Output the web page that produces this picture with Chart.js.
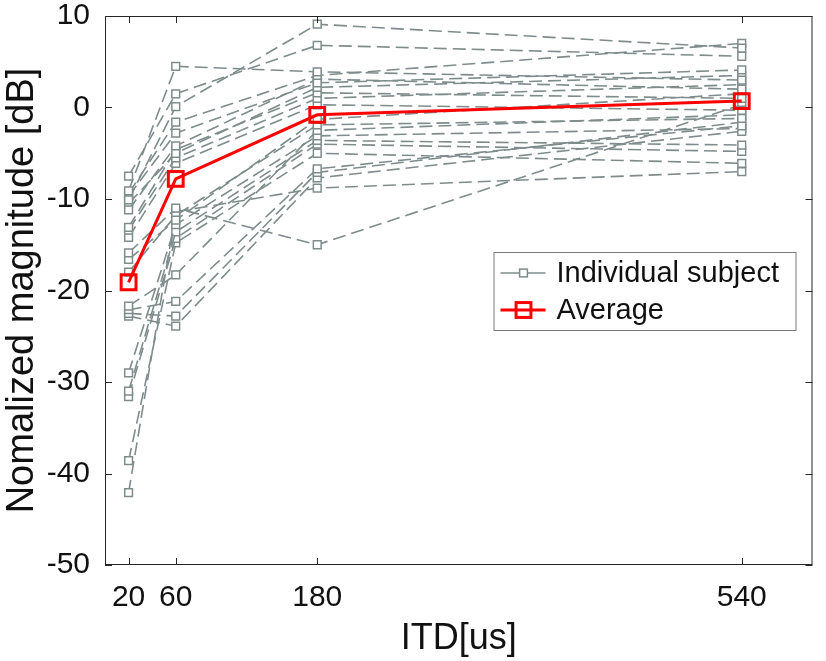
<!DOCTYPE html>
<html>
<head>
<meta charset="utf-8">
<title>ITD normalized magnitude</title>
<script src="https://cdn.jsdelivr.net/npm/chart.js@4.4.0/dist/chart.umd.min.js"></script>
<style>
    html, body { margin: 0; padding: 0; background: #fff; }
    #wrap { width: 826px; height: 661px; }
</style>
</head>
<body>
<div id="wrap"><canvas id="itdChart" width="826" height="661"></canvas></div>
<script>
// ITD conditions (us), also the x tick labels
const itdTicks = [20, 60, 180, 540];
const yTicks = [-50, -40, -30, -20, -10, 0, 10];

// Normalized magnitude (dB) per subject, one array per ITD, same subject order
const at20  = [-9.1, -10.1, -7.5, -9.4, -9.7, -11.2, -10.5, -13.1, -13.4, -14.2, -15.9,
               -16.6, -18.0, -21.7, -22.1, -22.5, -22.8, -29.0, -31.0, -31.6, -38.6, -42.1];
const at60  = [4.5, 0.1, 1.5, -1.6, -2.8, -4.2, -5.0, -4.6, -5.5, -6.1, -11.0,
               -12.3, -11.8, -18.3, -21.2, -22.8, -23.9, -12.8, -13.6, -14.3, -14.8, -11.4];
const at180 = [3.9, 9.1, 6.8, 3.5, 2.7, 3.1, 2.2, 1.6, 1.0, 0.3, -15.0,
               -1.3, -1.9, -2.5, -6.7, -7.1, -7.7, -3.1, -3.6, -4.0, -5.0, -8.8];
const at540 = [3.0, 6.5, 5.6, 7.0, 4.1, 2.0, 3.5, 1.0, 2.5, -0.3, 0.3,
               1.5, -1.2, -0.8, -2.0, -1.6, -2.6, -2.3, -4.1, -4.8, -6.1, -7.0];

// Mean over subjects
const average = [-19.1, -7.8, -0.8, 0.7];

const colors = {
    subject: '#7f8c8c',
    average: '#ff0000',
    axis: '#262626',
    text: '#111111'
};
const FONT = "'Liberation Sans', Arial, Helvetica, sans-serif";

const columns = [at20, at60, at180, at540];
const toPoints = vals => vals.map((v, i) => ({ x: itdTicks[i], y: v }));

const subjectStyle = {
    showLine: true,
    borderColor: colors.subject,
    borderWidth: 1.6,
    borderDash: [13, 6],
    pointStyle: 'rect',
    pointRadius: 5.5,
    pointBorderWidth: 1.5,
    pointBorderColor: colors.subject,
    pointBackgroundColor: '#ffffff',
    tension: 0
};

const averageStyle = {
    showLine: true,
    borderColor: colors.average,
    borderWidth: 3,
    pointStyle: 'rect',
    pointRadius: 10.5,
    pointBorderWidth: 3,
    pointBorderColor: colors.average,
    pointBackgroundColor: 'rgba(0,0,0,0)',
    tension: 0
};

// average first so it is painted on top
const datasets = [
    Object.assign({ label: 'Average', data: toPoints(average) }, averageStyle)
];
at20.forEach((_, s) => {
    datasets.push(Object.assign({
        label: 'Individual subject',
        data: toPoints(columns.map(col => col[s]))
    }, subjectStyle));
});

// box around the plot with inward tick marks, like a MATLAB axes
const frameTicks = {
    id: 'frameTicks',
    afterDatasetsDraw(chart) {
        const { ctx, chartArea: a, scales: { x, y } } = chart;
        const len = 7;
        ctx.save();
        ctx.strokeStyle = colors.axis;
        ctx.lineWidth = 1;
        ctx.setLineDash([]);
        ctx.strokeRect(a.left + 0.5, a.top + 0.5, a.right - a.left - 1, a.bottom - a.top - 1);
        ctx.beginPath();
        itdTicks.forEach(v => {
            const px = Math.round(x.getPixelForValue(v)) + 0.5;
            ctx.moveTo(px, a.bottom); ctx.lineTo(px, a.bottom - len);
            ctx.moveTo(px, a.top); ctx.lineTo(px, a.top + len);
        });
        yTicks.forEach(v => {
            const py = Math.round(y.getPixelForValue(v)) + 0.5;
            ctx.moveTo(a.left, py); ctx.lineTo(a.left + len, py);
            ctx.moveTo(a.right, py); ctx.lineTo(a.right - len, py);
        });
        ctx.stroke();
        ctx.restore();
    }
};

// legend box inside the plot area
const boxLegend = {
    id: 'boxLegend',
    afterDraw(chart) {
        const { ctx, chartArea: a } = chart;
        const left = a.right - 319, top = a.top + 236, w = 302, h = 78;
        const entries = [
            { text: 'Individual subject', st: subjectStyle, y: top + 21 },
            { text: 'Average', st: averageStyle, y: top + 58 }
        ];
        ctx.save();
        ctx.fillStyle = '#ffffff';
        ctx.fillRect(left, top, w, h);
        ctx.strokeStyle = '#7a7a7a';
        ctx.lineWidth = 1;
        ctx.strokeRect(left + 0.5, top + 0.5, w, h);

        entries.forEach(e => {
            const x0 = left + 7, x1 = left + 52, mx = left + 30;
            ctx.strokeStyle = e.st.borderColor;
            ctx.lineWidth = e.st.borderWidth;
            ctx.beginPath();
            ctx.moveTo(x0, e.y); ctx.lineTo(x1, e.y);
            ctx.stroke();
            const half = e.st.pointRadius * Math.SQRT1_2;
            ctx.fillStyle = e.st.pointBackgroundColor;
            ctx.fillRect(mx - half, e.y - half, half * 2, half * 2);
            ctx.lineWidth = e.st.pointBorderWidth;
            ctx.strokeStyle = e.st.pointBorderColor;
            ctx.strokeRect(mx - half, e.y - half, half * 2, half * 2);

            ctx.fillStyle = colors.text;
            ctx.font = '29px ' + FONT;
            ctx.textBaseline = 'middle';
            ctx.textAlign = 'left';
            ctx.fillText(e.text, left + 63, e.y + 1);
        });
        ctx.restore();
    }
};

new Chart(document.getElementById('itdChart'), {
    type: 'scatter',
    data: { datasets: datasets },
    plugins: [frameTicks, boxLegend],
    options: {
        responsive: false,
        animation: false,
        devicePixelRatio: 1,
        layout: { padding: { top: 16, right: 1, left: 0, bottom: 0 } },
        plugins: {
            legend: { display: false },
            tooltip: { enabled: false }
        },
        scales: {
            x: {
                type: 'linear',
                min: 0,
                max: 600,
                afterBuildTicks: s => { s.ticks = itdTicks.map(v => ({ value: v })); },
                afterFit: s => { s.height = 96; s.paddingRight = 0; },
                grid: { display: false, drawTicks: false },
                border: { display: false },
                ticks: {
                    color: colors.text,
                    padding: 18,
                    maxRotation: 0,
                    font: { family: FONT, size: 30, lineHeight: 1 }
                },
                title: {
                    display: true,
                    text: 'ITD[us]',
                    color: colors.text,
                    padding: 0,
                    font: { family: FONT, size: 36, lineHeight: 1.2 }
                }
            },
            y: {
                type: 'linear',
                min: -50,
                max: 10,
                afterBuildTicks: s => { s.ticks = yTicks.map(v => ({ value: v })); },
                afterFit: s => { s.width = 105; s.paddingTop = 0; s.paddingBottom = 0; },
                grid: { display: false, drawTicks: false },
                border: { display: false },
                ticks: {
                    color: colors.text,
                    padding: 15,
                    font: { family: FONT, size: 30, lineHeight: 1 }
                },
                title: {
                    display: true,
                    text: 'Nomalized magnitude [dB]',
                    color: colors.text,
                    padding: 0,
                    font: { family: FONT, size: 38, lineHeight: 1.2 }
                }
            }
        }
    }
});
</script>
</body>
</html>
